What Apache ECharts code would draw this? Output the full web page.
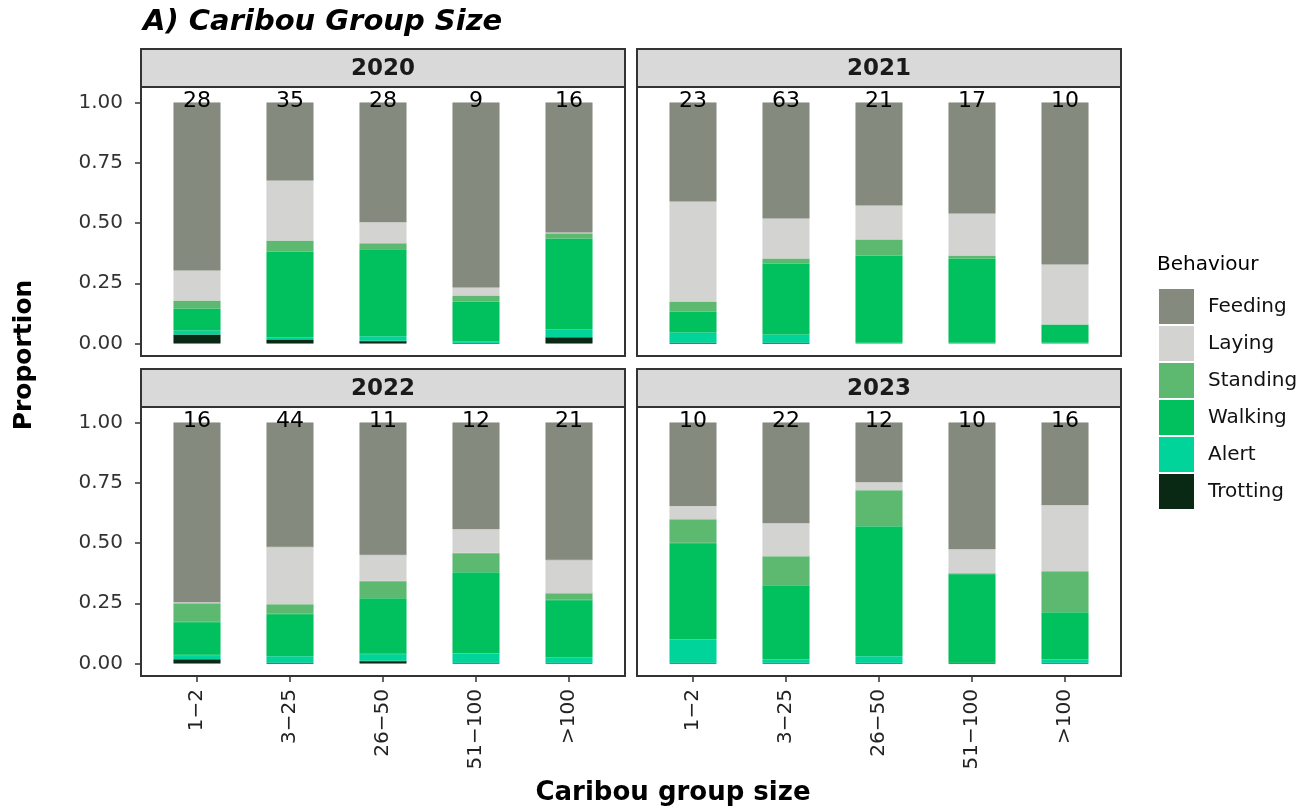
<!DOCTYPE html>
<html>
<head>
<meta charset="utf-8">
<script src="https://cdn.jsdelivr.net/npm/echarts@6/dist/echarts.min.js"></script>
<style>
  html, body { margin: 0; padding: 0; background: #fff; }
  #chart { width: 1312px; height: 811px; }
</style>
</head>
<body>
<div id="chart"></div>
<script>
// group size classes and years (facets)
var sizes = ['1−2', '3−25', '26−50', '51−100', '>100'];
var years = ['2020', '2021', '2022', '2023'];

// number of observations above each bar, one row per year
var counts = [
  [28, 35, 28, 9, 16],
  [23, 63, 21, 17, 10],
  [16, 44, 11, 12, 21],
  [10, 22, 12, 10, 16]
];

// proportions per behaviour, one row per year (2020..2023)
var trotting = [
  [0.037, 0.017, 0.010, 0.002, 0.026],
  [0.003, 0.003, 0.000, 0.000, 0.000],
  [0.018, 0.003, 0.010, 0.002, 0.002],
  [0.002, 0.002, 0.002, 0.002, 0.002]
];
var alert = [
  [0.017, 0.008, 0.020, 0.006, 0.033],
  [0.043, 0.034, 0.003, 0.003, 0.003],
  [0.017, 0.027, 0.029, 0.041, 0.024],
  [0.099, 0.016, 0.028, 0.000, 0.016]
];
var walking = [
  [0.091, 0.357, 0.361, 0.166, 0.377],
  [0.087, 0.295, 0.362, 0.350, 0.076],
  [0.137, 0.175, 0.232, 0.336, 0.237],
  [0.399, 0.307, 0.540, 0.369, 0.195]
];
var standing = [
  [0.033, 0.045, 0.025, 0.025, 0.021],
  [0.041, 0.021, 0.067, 0.012, 0.000],
  [0.078, 0.041, 0.071, 0.079, 0.029],
  [0.099, 0.120, 0.149, 0.004, 0.170]
];
var laying = [
  [0.125, 0.249, 0.087, 0.033, 0.004],
  [0.415, 0.166, 0.141, 0.174, 0.249],
  [0.004, 0.237, 0.108, 0.099, 0.137],
  [0.054, 0.137, 0.033, 0.099, 0.274]
];
var feeding = [
  [0.697, 0.324, 0.497, 0.768, 0.539],
  [0.411, 0.481, 0.427, 0.461, 0.672],
  [0.746, 0.517, 0.550, 0.443, 0.571],
  [0.347, 0.418, 0.248, 0.526, 0.343]
];

// stacking order, bottom first
var behaviours = [
  { name: 'Trotting', data: trotting, color: '#0a2915' },
  { name: 'Alert', data: alert, color: '#00d49b' },
  { name: 'Walking', data: walking, color: '#00c15d' },
  { name: 'Standing', data: standing, color: '#5db870' },
  { name: 'Laying', data: laying, color: '#d3d3d2' },
  { name: 'Feeding', data: feeding, color: '#858a7e' }
];

var FONT = 'DejaVu Sans';
var chart = echarts.init(document.getElementById('chart'));

// panel frames (left, top of strip) for each year
var panels = [
  { x: 141, y: 49 },
  { x: 637, y: 49 },
  { x: 141, y: 369 },
  { x: 637, y: 369 }
];
var panelW = 484, stripH = 38, plotH = 269;

var grids = [], xAxes = [], yAxes = [], series = [], graphics = [];

panels.forEach(function (p, i) {
  var leftCol = i % 2 === 0;
  var plotTop = p.y + stripH;
  grids.push({
    left: p.x + 9.5,
    top: plotTop + 15.5,
    width: 465,
    height: 241
  });
  xAxes.push({
    type: 'category',
    gridIndex: i,
    data: sizes,
    axisLine: { show: false },
    axisTick: { show: false },
    axisLabel: { show: false }
  });
  yAxes.push({
    type: 'value',
    gridIndex: i,
    min: 0,
    max: 1,
    interval: 0.25,
    offset: 9.5,
    splitLine: { show: false },
    axisLine: { show: false },
    axisTick: { show: leftCol, length: 6, lineStyle: { color: '#333', width: 1.5 } },
    axisLabel: {
      show: leftCol,
      margin: 18,
      fontFamily: FONT,
      fontSize: 20,
      color: '#333',
      formatter: function (v) { return v.toFixed(2); }
    }
  });

  behaviours.forEach(function (b) {
    var s = {
      name: b.name,
      type: 'bar',
      stack: 'y' + i,
      xAxisIndex: i,
      yAxisIndex: i,
      barWidth: 47,
      itemStyle: { color: b.color, borderColor: b.color, borderWidth: 0.5 },
      emphasis: { disabled: true },
      data: b.data[i].map(function (v) { return v > 0 ? v : null; })
    };
    if (b.name === 'Feeding') {
      s.label = {
        show: true,
        position: 'top',
        distance: -10,
        fontFamily: FONT,
        fontSize: 22,
        color: '#000',
        formatter: function (d) { return counts[i][d.dataIndex]; }
      };
    }
    series.push(s);
  });

  // strip
  graphics.push({
    type: 'rect',
    silent: true,
    shape: { x: p.x, y: p.y, width: panelW, height: stripH },
    style: { fill: '#d9d9d9', stroke: '#333', lineWidth: 2 }
  });
  graphics.push({
    type: 'text',
    silent: true,
    x: p.x + panelW / 2,
    y: p.y + stripH / 2 + 1,
    style: {
      text: years[i],
      fontFamily: FONT,
      fontWeight: 'bold',
      fontSize: 23,
      fill: '#1a1a1a',
      align: 'center',
      verticalAlign: 'middle'
    }
  });
  // panel border
  graphics.push({
    type: 'rect',
    silent: true,
    z: 100,
    shape: { x: p.x, y: plotTop, width: panelW, height: plotH },
    style: { fill: null, stroke: '#333', lineWidth: 2 }
  });
});

// shared x axes under the bottom row, sitting on the panel border
[2, 3].forEach(function (i) {
  var p = panels[i];
  grids.push({
    left: p.x + 9.5,
    top: p.y + stripH + plotH - 1,
    width: 465,
    height: 1
  });
  xAxes.push({
    type: 'category',
    gridIndex: grids.length - 1,
    data: sizes,
    axisLine: { show: false },
    axisTick: { show: true, alignWithLabel: true, length: 6, lineStyle: { color: '#333', width: 1.5 } },
    axisLabel: {
      rotate: 90,
      margin: 13,
      fontFamily: FONT,
      fontSize: 20,
      color: '#222'
    }
  });
  yAxes.push({ type: 'value', gridIndex: grids.length - 1, show: false });
});

graphics.push({
  type: 'text',
  x: 1157,
  y: 265,
  style: {
    text: 'Behaviour',
    fontFamily: FONT,
    fontSize: 20,
    fill: '#000',
    verticalAlign: 'middle'
  }
});
graphics.push({
  type: 'text',
  x: 673,
  y: 793,
  style: {
    text: 'Caribou group size',
    fontFamily: FONT,
    fontWeight: 'bold',
    fontSize: 26,
    fill: '#000',
    align: 'center',
    verticalAlign: 'middle'
  }
});
graphics.push({
  type: 'text',
  x: 24,
  y: 355,
  rotation: Math.PI / 2,
  style: {
    text: 'Proportion',
    fontFamily: FONT,
    fontWeight: 'bold',
    fontSize: 25,
    fill: '#000',
    align: 'center',
    verticalAlign: 'middle'
  }
});

var option = {
  animation: false,
  title: {
    text: 'A) Caribou Group Size',
    left: 138,
    top: 3,
    textStyle: {
      fontFamily: FONT,
      fontWeight: 'bold',
      fontStyle: 'italic',
      fontSize: 29,
      color: '#000'
    }
  },
  legend: {
    orient: 'vertical',
    left: 1157,
    top: 287,
    padding: 0,
    icon: 'rect',
    itemWidth: 37,
    itemHeight: 37,
    itemGap: -2,
    selectedMode: false,
    itemStyle: { borderColor: '#fff', borderWidth: 2 },
    data: ['Feeding', 'Laying', 'Standing', 'Walking', 'Alert', 'Trotting'],
    textStyle: {
      fontFamily: FONT,
      fontSize: 20,
      color: '#111',
      padding: [0, 0, 0, 8]
    }
  },
  grid: grids,
  xAxis: xAxes,
  yAxis: yAxes,
  series: series,
  graphic: graphics
};

chart.setOption(option);
</script>
</body>
</html>
